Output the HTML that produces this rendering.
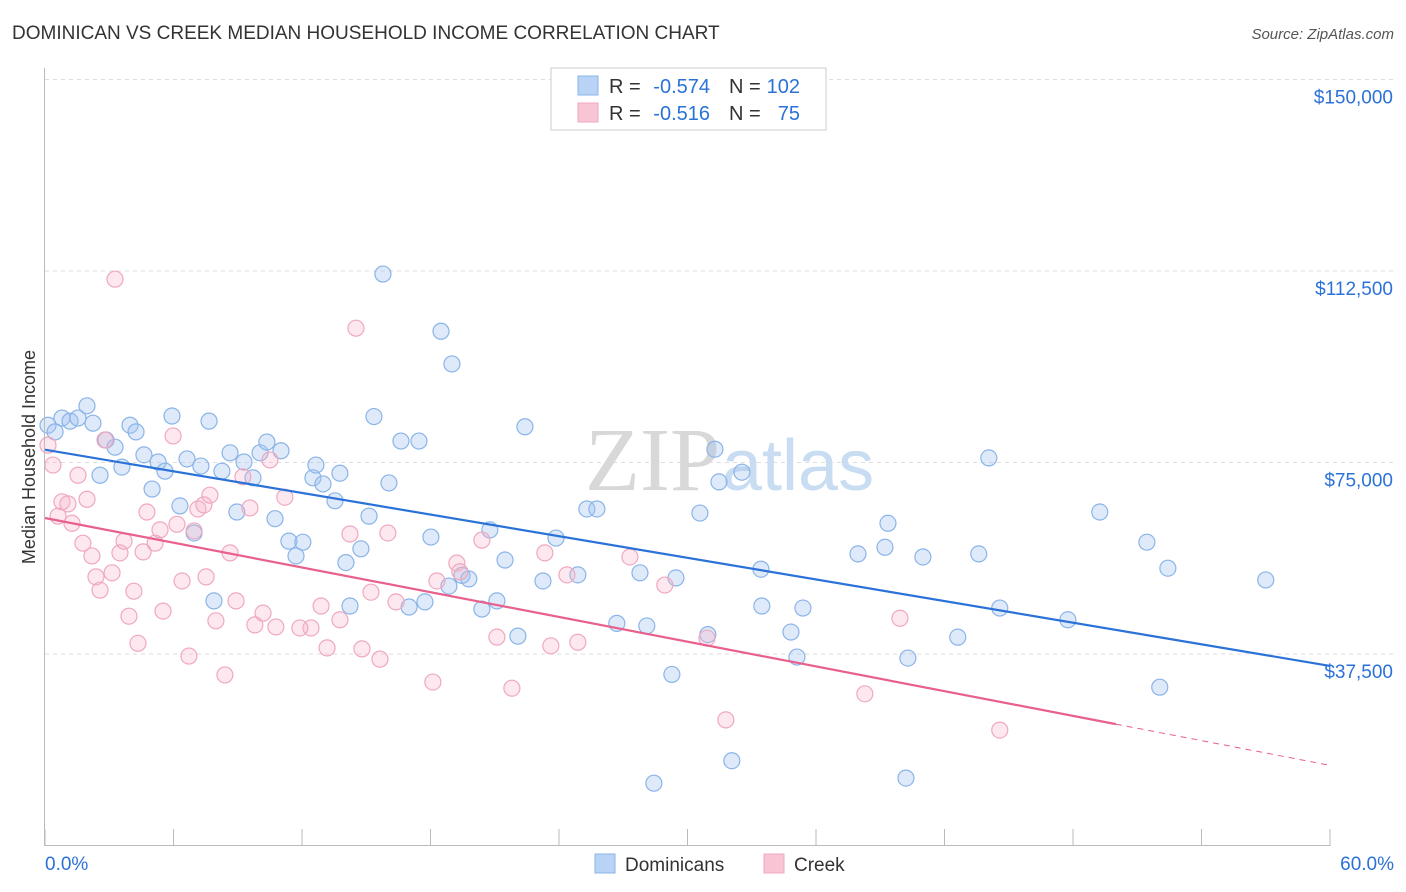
<!DOCTYPE html>
<html><head><meta charset="utf-8">
<style>
body{margin:0;background:#fff;font-family:"Liberation Sans",sans-serif;}
#wrap{position:relative;width:1406px;height:892px;overflow:hidden;}
</style></head>
<body>
<div id="wrap">
<svg id="svg" width="1406" height="892" xmlns="http://www.w3.org/2000/svg">
<text x="12" y="39" font-size="19" fill="#333">DOMINICAN VS CREEK MEDIAN HOUSEHOLD INCOME CORRELATION CHART</text>
<text x="1394" y="39" font-size="15" fill="#555" font-style="italic" text-anchor="end">Source: ZipAtlas.com</text>
<text x="35" y="457" font-size="18" fill="#333" text-anchor="middle" transform="rotate(-90 35 457)">Median Household Income</text>
<g id="grid"></g>
<text x="720" y="490" font-size="90" fill="#d8d8d8" text-anchor="end" font-family="Liberation Serif">ZIP</text>
<text x="722" y="490" font-size="72" fill="#c8dcf2">atlas</text>
<g id="pts"></g>
<g id="lines"></g>
<g id="axes"></g>
<g>
<rect x="551" y="68" width="275" height="62" fill="#fff" stroke="#ccc"/>
<rect x="578" y="76" width="20" height="19" fill="#b8d3f5" stroke="#8ab4e8"/>
<rect x="578" y="103" width="20" height="19" fill="#f8c5d5" stroke="#f0a8c0"/>
<text x="609" y="93" font-size="20" fill="#333">R =</text>
<text x="710" y="93" font-size="20" fill="#2b72d8" text-anchor="end">-0.574</text>
<text x="729" y="93" font-size="20" fill="#333">N =</text>
<text x="800" y="93" font-size="20" fill="#2b72d8" text-anchor="end">102</text>
<text x="609" y="120" font-size="20" fill="#333">R =</text>
<text x="710" y="120" font-size="20" fill="#2b72d8" text-anchor="end">-0.516</text>
<text x="729" y="120" font-size="20" fill="#333">N =</text>
<text x="800" y="120" font-size="20" fill="#2b72d8" text-anchor="end">75</text>
</g>
<g>
<rect x="595" y="854" width="20" height="19" fill="#b8d3f5" stroke="#8ab4e8"/>
<text x="625" y="871" font-size="19" fill="#333">Dominicans</text>
<rect x="764" y="854" width="20" height="19" fill="#f8c5d5" stroke="#f0a8c0"/>
<text x="794" y="871" font-size="19" fill="#333">Creek</text>
</g>
</svg>
</div>
<script>
const yTicks=[37500,75000,112500,150000];
const yTickLabels=["$37,500","$75,000","$112,500","$150,000"];
const xTickLabels=["0.0%","60.0%"];
const blueX=[.14,.47,.79,1.17,1.54,1.96,2.24,2.57,2.85,3.27,3.59,3.97,4.25,4.62,5.0,5.28,5.6,5.93,6.3,6.63,6.96,7.28,7.66,7.89,8.26,8.64,8.96,9.29,9.71,10.04,10.36,10.74,11.02,11.39,11.72,12.04,12.51,12.65,12.98,13.54,13.77,14.05,14.24,14.75,15.13,15.36,15.78,16.06,16.62,17.0,17.46,17.74,18.02,18.49,18.86,19.0,19.47,19.79,20.4,20.77,21.1,21.48,22.08,22.41,23.25,23.86,24.88,25.3,25.77,26.7,27.78,28.1,28.43,29.46,29.27,30.58,30.95,31.28,31.47,32.07,32.54,33.43,33.47,34.83,35.11,35.39,37.96,39.22,39.36,40.29,40.2,40.99,42.62,43.6,44.07,44.58,47.76,49.25,51.45,52.05,52.43,57.0];
const blueY=[82.3,81.0,83.7,83.1,83.7,86.1,82.7,72.5,79.4,78.0,74.1,82.3,81.0,76.5,69.8,75.1,73.3,84.1,66.5,75.7,61.2,74.3,83.1,47.9,73.3,76.9,65.3,75.1,72.0,76.9,79.0,64.0,77.3,59.6,56.7,59.4,72.0,74.5,70.8,67.5,72.9,55.4,46.9,58.1,64.5,84.0,111.9,71.0,79.2,46.7,79.2,47.7,60.4,100.7,50.8,94.3,52.9,52.2,46.3,61.8,47.9,55.9,41.0,82.0,51.8,60.2,53.0,65.9,65.9,43.5,53.4,43.0,12.2,52.4,33.5,65.1,41.3,77.6,71.2,16.6,73.1,54.1,46.9,41.8,36.9,46.5,57.1,58.4,63.1,36.7,13.2,56.5,40.8,57.1,75.9,46.5,44.2,65.3,59.4,31.0,54.3,52.0];
const pinkX=[.14,.37,.61,.79,1.07,1.26,1.54,1.77,1.96,2.19,2.38,2.57,2.8,3.13,3.27,3.5,3.69,3.92,4.15,4.34,4.58,4.76,5.14,5.37,5.51,5.98,6.16,6.4,6.72,6.96,7.14,7.42,7.52,7.7,7.98,8.4,8.64,8.92,9.24,9.57,9.8,10.18,10.5,10.78,11.2,12.42,12.89,13.17,13.77,14.24,14.52,14.8,15.22,15.64,16.01,16.39,18.11,18.3,19.23,19.37,20.4,21.1,21.8,23.34,23.62,24.37,24.88,27.31,28.94,30.91,31.79,38.28,39.92,44.58,11.9];
const pinkY=[78.4,74.5,64.5,67.3,66.9,63.1,72.5,59.2,67.8,56.7,52.6,50.0,79.4,53.4,110.9,57.3,59.6,44.9,49.8,39.6,57.5,65.3,59.2,61.8,45.9,80.2,62.9,51.8,37.1,61.6,65.9,66.7,52.6,68.6,44.0,33.4,57.3,47.9,72.2,66.1,43.2,45.5,75.5,42.8,68.2,42.6,46.9,38.7,44.2,61.0,101.3,38.5,49.6,36.5,61.2,47.7,32.0,51.8,55.3,53.6,59.8,40.8,30.8,57.3,39.1,53.0,39.8,56.5,51.0,40.6,24.6,29.7,44.5,22.6,42.6];
const NS="http://www.w3.org/2000/svg";
const X=v=>45+v/60*1285;
const Y=v=>845.5-v*1000/37500*191.5;
function mk(tag,attrs,parent){const e=document.createElementNS(NS,tag);for(const k in attrs)e.setAttribute(k,attrs[k]);parent.appendChild(e);return e;}
const grid=document.getElementById('grid'),axes=document.getElementById('axes');
yTicks.forEach((t,i)=>{
  const l=mk('line',{x1:45,x2:1394,y1:Y(t/1000),y2:Y(t/1000),stroke:'#ddd','stroke-dasharray':'4,4'},grid);
  
  
  const tx=mk('text',{x:1393,y:Y(t/1000)+24,'font-size':19,fill:'#2b72d8','text-anchor':'end'},axes);
  tx.textContent=yTickLabels[i];
  
  
});
mk('line',{x1:44.5,x2:44.5,y1:68,y2:846,stroke:'#bbb'},axes);
mk('line',{x1:45,x2:1330,y1:845.5,y2:845.5,stroke:'#bbb'},axes);
for(let i=0;i<=10;i++){mk('line',{x1:X(i*6),x2:X(i*6),y1:829,y2:846,stroke:'#bbb'},axes);}
xTickLabels.forEach((s,i)=>{
  const t=mk('text',{x:i?1394:45,y:870,'font-size':19,fill:'#2b72d8','text-anchor':i?'end':'start'},axes);
  t.textContent=s;
  
  
});
const pts=document.getElementById('pts');
function series(xs,ys,fill,stroke,name){
  xs.forEach((x,i)=>{
    const c=mk('circle',{cx:X(x),cy:Y(ys[i]),r:8,fill:fill,stroke:stroke,'stroke-width':1.2},pts);
    
    
  });
}
series(blueX,blueY,'rgba(160,196,240,0.35)','#8ab4e8','dominican-point');
series(pinkX,pinkY,'rgba(245,180,200,0.3)','#f0a8c0','creek-point');
function reg(xs,ys){const n=xs.length;let mx=0,my=0;xs.forEach((x,i)=>{mx+=x;my+=ys[i];});mx/=n;my/=n;let sxy=0,sxx=0;xs.forEach((x,i)=>{sxy+=(x-mx)*(ys[i]-my);sxx+=(x-mx)**2;});const b=sxy/sxx;return [my-b*mx,b];}
const lines=document.getElementById('lines');
const [ba,bb]=reg(blueX,blueY);
let l=mk('line',{x1:X(0),y1:Y(ba),x2:X(60),y2:Y(ba+bb*60),stroke:'#2b72d8','stroke-width':2.2},lines);


const [pa,pb]=reg(pinkX,pinkY);
l=mk('line',{x1:X(0),y1:Y(pa),x2:X(50),y2:Y(pa+pb*50),stroke:'#e8608c','stroke-width':2.2},lines);


l=mk('line',{x1:X(50),y1:Y(pa+pb*50),x2:X(60),y2:Y(pa+pb*60),stroke:'#e8608c','stroke-width':1,'stroke-dasharray':'6,5'},lines);


</script>
</body></html>
